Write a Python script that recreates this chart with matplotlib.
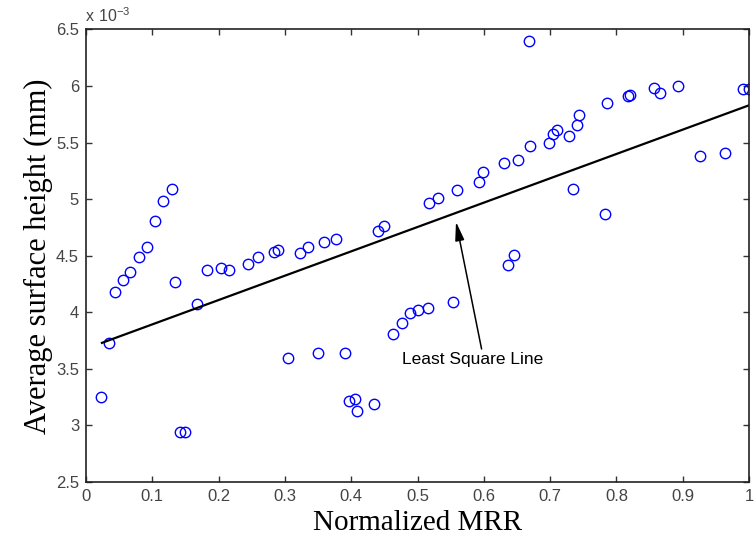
import numpy as np
import matplotlib
matplotlib.use("Agg")
import matplotlib.pyplot as plt
from matplotlib.ticker import FuncFormatter

# Normalized MRR vs average surface height (units of 1e-3 mm)
mrr = [0.023, 0.035, 0.044, 0.056, 0.066, 0.080, 0.092, 0.104, 0.116, 0.129,
       0.134, 0.141, 0.150, 0.168, 0.182, 0.203, 0.215, 0.244, 0.259, 0.283,
       0.290, 0.304, 0.322, 0.335, 0.350, 0.359, 0.377, 0.391, 0.397, 0.406,
       0.409, 0.435, 0.441, 0.450, 0.463, 0.477, 0.489, 0.501, 0.516, 0.517,
       0.531, 0.553, 0.559, 0.592, 0.598, 0.630, 0.636, 0.645, 0.651, 0.668,
       0.669, 0.698, 0.705, 0.711, 0.728, 0.734, 0.741, 0.743, 0.782, 0.786,
       0.818, 0.820, 0.856, 0.866, 0.893, 0.926, 0.964, 0.991, 1.000]
height = [3.25, 3.73, 4.18, 4.29, 4.36, 4.49, 4.58, 4.81, 4.98, 5.09,
          4.27, 2.94, 2.94, 4.07, 4.37, 4.39, 4.37, 4.43, 4.49, 4.53,
          4.55, 3.60, 4.52, 4.58, 3.64, 4.62, 4.65, 3.64, 3.22, 3.23,
          3.13, 3.19, 4.72, 4.76, 3.81, 3.91, 3.99, 4.02, 4.04, 4.97,
          5.01, 4.09, 5.08, 5.15, 5.24, 5.32, 4.42, 4.51, 5.35, 6.40,
          5.47, 5.50, 5.58, 5.61, 5.56, 5.09, 5.66, 5.74, 4.87, 5.85,
          5.91, 5.92, 5.98, 5.94, 6.00, 5.38, 5.41, 5.97, 5.97]

# least square line end points
fit_x = [0.024, 1.0]
fit_y = [3.73, 5.83]

x_ticks = [0, 0.1, 0.2, 0.3, 0.4, 0.5, 0.6, 0.7, 0.8, 0.9, 1.0]
y_ticks = [2.5, 3, 3.5, 4, 4.5, 5, 5.5, 6, 6.5]

plt.rcParams["font.family"] = ["Liberation Sans", "DejaVu Sans"]
plt.rcParams["mathtext.fontset"] = "custom"
plt.rcParams["mathtext.rm"] = "Liberation Sans"

fig = plt.figure(figsize=(7.56, 5.43), dpi=100)
ax = fig.add_axes([0.1138, 0.1123, 0.8770, 0.8334])

ax.plot(mrr, height, linestyle="none", marker="o", markersize=7.5,
        markerfacecolor="none", markeredgecolor="#0000ff", markeredgewidth=1.0)
ax.plot(fit_x, fit_y, color="black", lw=1.6)

ax.annotate("Least Square Line", xy=(0.558, 4.80), xytext=(0.476, 3.585),
            fontsize=12.5, color="black", ha="left", va="center",
            arrowprops=dict(arrowstyle="-|>,head_length=0.9,head_width=0.22",
                            color="black", lw=1.1, shrinkA=0, shrinkB=0,
                            relpos=(0.57, 1.0)))

ax.set_xlim(0, 1)
ax.set_ylim(2.5, 6.5)
ax.set_xticks(x_ticks)
ax.set_yticks(y_ticks)
fmt = FuncFormatter(lambda v, pos: "%g" % v)
ax.xaxis.set_major_formatter(fmt)
ax.yaxis.set_major_formatter(fmt)
ax.tick_params(direction="in", length=4, width=1, top=True, right=True,
               labelsize=12, labelcolor="#444444", color="#333333", pad=5)
for s in ax.spines.values():
    s.set_linewidth(1.2)
    s.set_color("#222222")

ax.set_xlabel("Normalized MRR", family=["Liberation Serif"], fontsize=21, labelpad=4)
ax.set_ylabel("Average surface height (mm)", family=["Liberation Serif"], fontsize=22, labelpad=2)

fig.text(0.112, 0.972, r"$\mathregular{x\ 10^{-3}}$", fontsize=11.5, color="#444444",
         ha="left", va="center")

fig.savefig("out.png", dpi=100)
